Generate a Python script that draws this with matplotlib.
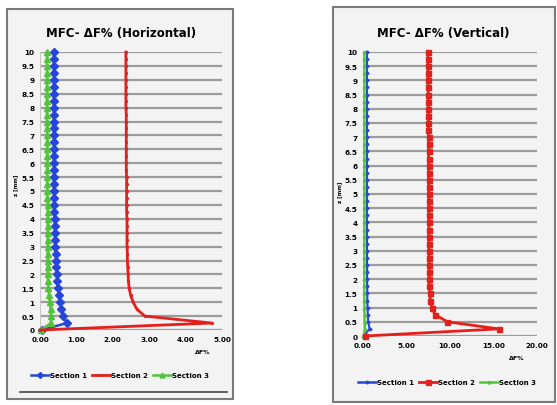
import matplotlib
matplotlib.use("Agg")
import matplotlib.pyplot as plt
from matplotlib.patches import Rectangle
from matplotlib.lines import Line2D

z = [0.0, 0.25, 0.5, 0.75, 1.0, 1.25, 1.5, 1.75, 2.0, 2.25, 2.5, 2.75, 3.0, 3.25,
     3.5, 3.75, 4.0, 4.25, 4.5, 4.75, 5.0, 5.25, 5.5, 5.75, 6.0, 6.25, 6.5, 6.75,
     7.0, 7.25, 7.5, 7.75, 8.0, 8.25, 8.5, 8.75, 9.0, 9.25, 9.5, 9.75, 10.0]

# Horizontal
h_s1 = [0.05, 0.74, 0.63, 0.58, 0.55, 0.52, 0.49, 0.47, 0.46, 0.45, 0.44, 0.43, 0.42, 0.41,
        0.41, 0.40, 0.40, 0.39, 0.39, 0.39, 0.38, 0.38, 0.38, 0.38, 0.38, 0.38, 0.38, 0.38,
        0.38, 0.38, 0.38, 0.38, 0.38, 0.38, 0.38, 0.38, 0.38, 0.38, 0.38, 0.38, 0.38]
h_s2 = [0.00, 4.72, 2.88, 2.66, 2.56, 2.49, 2.45, 2.43, 2.42, 2.41, 2.40, 2.40, 2.39, 2.39,
        2.39, 2.39, 2.39, 2.38, 2.38, 2.38, 2.38, 2.38, 2.38, 2.37, 2.37, 2.37, 2.37, 2.37,
        2.37, 2.37, 2.37, 2.37, 2.36, 2.36, 2.36, 2.36, 2.36, 2.36, 2.36, 2.36, 2.36]
h_s3 = [0.03, 0.30, 0.30, 0.29, 0.27, 0.25, 0.23, 0.22, 0.21, 0.21, 0.21, 0.21, 0.21, 0.21,
        0.21, 0.21, 0.21, 0.21, 0.21, 0.20, 0.20, 0.20, 0.20, 0.20, 0.20, 0.20, 0.20, 0.20,
        0.20, 0.19, 0.19, 0.19, 0.19, 0.19, 0.19, 0.19, 0.19, 0.19, 0.19, 0.19, 0.19]

# Vertical
v_s1 = [0.10, 0.75, 0.60, 0.55, 0.52, 0.50, 0.49, 0.48, 0.47, 0.47, 0.46, 0.46, 0.46, 0.46,
        0.45, 0.45, 0.45, 0.45, 0.45, 0.45, 0.45, 0.45, 0.45, 0.45, 0.45, 0.45, 0.45, 0.45,
        0.45, 0.45, 0.45, 0.45, 0.45, 0.45, 0.45, 0.45, 0.45, 0.45, 0.45, 0.45, 0.45]
v_s2 = [0.20, 15.60, 9.70, 8.30, 7.90, 7.75, 7.68, 7.64, 7.62, 7.61, 7.60, 7.60, 7.59, 7.59,
        7.58, 7.58, 7.58, 7.57, 7.57, 7.57, 7.56, 7.56, 7.55, 7.55, 7.55, 7.54, 7.54, 7.53,
        7.53, 7.52, 7.52, 7.51, 7.51, 7.50, 7.50, 7.49, 7.49, 7.48, 7.48, 7.47, 7.47]
v_s3 = [0.05, 0.25, 0.20, 0.18, 0.17, 0.16, 0.15, 0.15, 0.15, 0.15, 0.15, 0.15, 0.15, 0.15,
        0.15, 0.15, 0.15, 0.15, 0.15, 0.15, 0.15, 0.15, 0.15, 0.15, 0.15, 0.15, 0.15, 0.15,
        0.15, 0.15, 0.15, 0.15, 0.15, 0.15, 0.15, 0.15, 0.15, 0.15, 0.15, 0.15, 0.15]

series_names = ["Section 1", "Section 2", "Section 3"]
h_xticks = [0, 1, 2, 3, 4, 5]
h_xticklabels = ["0.00", "1.00", "2.00", "3.00", "4.00", "5.00"]
v_xticks = [0, 5, 10, 15, 20]
v_xticklabels = ["0.00", "5.00", "10.00", "15.00", "20.00"]
yticks = [0, 0.5, 1, 1.5, 2, 2.5, 3, 3.5, 4, 4.5, 5, 5.5, 6, 6.5, 7, 7.5, 8, 8.5, 9, 9.5, 10]
yticklabels = ["0", "0.5", "1", "1.5", "2", "2.5", "3", "3.5", "4", "4.5", "5", "5.5",
               "6", "6.5", "7", "7.5", "8", "8.5", "9", "9.5", "10"]

BLUE = "#2546d6"
RED = "#e3201c"
GREEN = "#52c43a"

W, H = 557, 406
fig = plt.figure(figsize=(W / 100, H / 100), dpi=100)
fig.patch.set_facecolor("white")

def px(x0, y0, x1, y1):
    return [x0 / W, 1 - y1 / H, (x1 - x0) / W, (y1 - y0) / H]

# panel frames
for (x0, y0, x1, y1) in [(7, 10, 233, 400), (333, 8, 555, 403)]:
    fig.patches.append(Rectangle((x0 / W, 1 - y1 / H), (x1 - x0) / W, (y1 - y0) / H,
                                 transform=fig.transFigure, facecolor="#f3f3f3",
                                 edgecolor="#7a7a7a", linewidth=1.5, zorder=-5))
fig.add_artist(Line2D([20 / W, 227 / W], [1 - 393 / H, 1 - 393 / H],
                      transform=fig.transFigure, color="#444444", linewidth=1.2))

def make_panel(rect, s1, s2, s3, xlim, xticks, xticklabels, title, title_xy,
               xlabel_xy, legend_xy, ms13, lw13, s2marker, ms2):
    ax = fig.add_axes(rect)
    ax.set_zorder(3)
    ax.patch.set_visible(False)
    ax.set_xlim(*xlim)
    ax.set_ylim(0, 10)
    for s in ax.spines.values():
        s.set_visible(False)
    for yv in yticks:
        ax.axhline(yv, color="#9c9c9c", linewidth=1.6, zorder=1)
    ax.axvline(0, color="#c8c8c8", linewidth=0.8, zorder=1)
    ax.plot(s1, z, color=BLUE, marker="D", markersize=ms13, linewidth=lw13,
            clip_on=False, zorder=3)
    ax.plot(s3, z, color=GREEN, marker="^", markersize=ms13 + 0.5, linewidth=lw13,
            clip_on=False, zorder=3)
    ax.plot(s2, z, color=RED, marker=s2marker, markersize=ms2, linewidth=2.0,
            clip_on=False, zorder=4)
    ax.set_yticks(yticks)
    ax.set_yticklabels(yticklabels)
    ax.set_xticks(xticks)
    ax.set_xticklabels(xticklabels)
    ax.tick_params(length=0, labelsize=5.2, pad=4)
    for lab in ax.get_xticklabels() + ax.get_yticklabels():
        lab.set_fontweight("bold")
    fig.text(title_xy[0] / W, 1 - title_xy[1] / H, title, ha="center", va="center",
             fontsize=8.5, fontweight="bold")
    fig.text(xlabel_xy[0] / W, 1 - xlabel_xy[1] / H, "ΔF%", ha="center", va="center",
             fontsize=4.5, fontweight="bold")
    handles = [Line2D([], [], color=BLUE, marker="D", markersize=min(ms13, 3), linewidth=1.8),
               Line2D([], [], color=RED, marker=s2marker, markersize=ms2, linewidth=2),
               Line2D([], [], color=GREEN, marker="^", markersize=min(ms13, 3) + 0.5, linewidth=1.8)]
    leg = fig.legend(handles, series_names, loc="center",
                     bbox_to_anchor=(legend_xy[0] / W, 1 - legend_xy[1] / H),
                     ncol=3, frameon=False, fontsize=5, handlelength=2.6,
                     handletextpad=0.1, columnspacing=0.8)
    for t in leg.get_texts():
        t.set_fontweight("bold")
    return ax

ax1 = make_panel(px(40, 53, 222, 331), h_s1, h_s2, h_s3, (0, 5), h_xticks, h_xticklabels,
                 "MFC- ΔF% (Horizontal)", (121, 33), (203, 353), (120, 376),
                 4.3, 1.8, ".", 2.6)
ax2 = make_panel(px(363, 53, 537, 337), v_s1, v_s2, v_s3, (0, 20), v_xticks, v_xticklabels,
                 "MFC- ΔF% (Vertical)", (443, 33), (517, 359), (447, 383),
                 1.5, 1.5, "s", 3.6)

fig.text(16 / W, 1 - 185 / H, "z [mm]", rotation=90, ha="center", va="center",
         fontsize=4, fontweight="bold")
fig.text(340 / W, 1 - 192 / H, "z [mm]", rotation=90, ha="center", va="center",
         fontsize=4, fontweight="bold")

fig.savefig("out.png", dpi=100)
